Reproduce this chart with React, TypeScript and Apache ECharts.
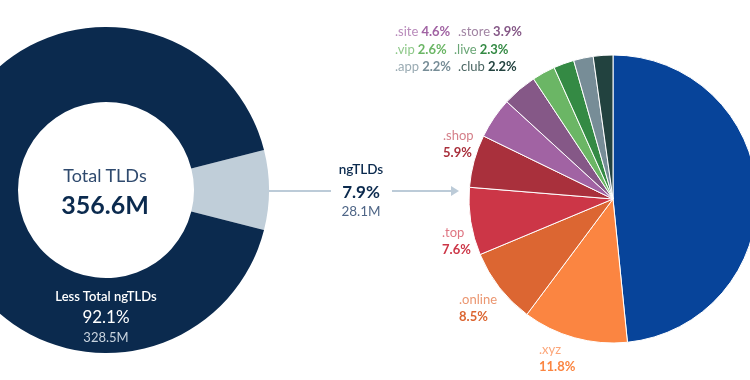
import React, { useEffect, useRef } from "react";
import * as echarts from "echarts";

// ---- data ----
const totalLabel = "Total TLDs";
const totalValue = "356.6M";
const lessLabel = "Less Total ngTLDs";
const lessPct = 92.1;
const lessValue = "328.5M";
const ngLabel = "ngTLDs";
const ngPct = 7.9;
const ngValue = "28.1M";

const tldNames = ["Other", ".xyz", ".online", ".top", ".shop", ".site", ".store", ".vip", ".live", ".app", ".club"];
const tldPcts = [48.4, 11.8, 8.5, 7.6, 5.9, 4.6, 3.9, 2.6, 2.3, 2.2, 2.2];

// ---- styles ----
const FONT = "Lato, 'Open Sans', sans-serif";
const NAVY = "#0b2a4e";
const LIGHT = "#c0ced9";
const sliceColors = ["#07449a", "#fb8541", "#dc6632", "#cc3647", "#a9303c", "#a163a3", "#855887", "#6bb665", "#348a44", "#778d97", "#22423f"];
const nameColors = ["", "#fca679", "#eb9670", "#df7683", "#d5808a", "#b98bbb", "#a184a3", "#8fc98a", "#6aa676", "#9aabb3", "#4b6663"];
// label layout [x, y, mode] mode: "stack" (name above value) or "inline"
const labelPos: Record<string, [number, number, string]> = {
  ".xyz": [539, 349, "stack"],
  ".online": [459, 299, "stack"],
  ".top": [442, 232, "stack"],
  ".shop": [443, 135, "stack"],
  ".site": [395, 31, "inline"],
  ".store": [458, 31, "inline"],
  ".vip": [395, 49, "inline"],
  ".live": [454, 49, "inline"],
  ".app": [395, 66, "inline"],
  ".club": [458, 66, "inline"],
};

export default function App() {
  const ref = useRef<HTMLDivElement>(null);
  useEffect(() => {
    if (!ref.current) return;
    const chart = echarts.init(ref.current, undefined, { renderer: "svg" });

    const graphics: any[] = [];
    const txt = (x: number, y: number, text: string, size: number, color: string, weight: any = "normal", align = "center") => {
      graphics.push({
        type: "text",
        x,
        y,
        style: { text, fontSize: size, fill: color, fontWeight: weight, fontFamily: FONT, align, verticalAlign: "middle" },
        z: 100,
      });
    };
    // left donut center texts
    txt(105, 175, totalLabel, 18, "#2f4a6e");
    txt(105, 204, totalValue, 25, NAVY, "bold");
    txt(106, 296, lessLabel, 13, "#ffffff", 600);
    txt(106, 316, lessPct.toFixed(1) + "%", 17, "#ffffff");
    txt(106, 337, lessValue, 13, "#c8d3de");
    // middle
    txt(361, 169, ngLabel, 13.5, NAVY, 600);
    txt(361, 191, ngPct.toFixed(1) + "%", 17, NAVY, "bold");
    txt(361, 211, ngValue, 13.5, "#4f6687");
    // arrow
    const ARROW = "#bccbd8";
    graphics.push({ type: "line", shape: { x1: 268, y1: 191, x2: 331, y2: 191 }, style: { stroke: ARROW, lineWidth: 2 } });
    graphics.push({ type: "line", shape: { x1: 392, y1: 191, x2: 452, y2: 191 }, style: { stroke: ARROW, lineWidth: 2 } });
    graphics.push({ type: "polygon", shape: { points: [[451, 186], [459, 191], [451, 196]] }, style: { fill: ARROW } });

    // right labels
    tldNames.forEach((n, i) => {
      const p = labelPos[n];
      if (!p) return;
      const val = tldPcts[i].toFixed(1) + "%";
      if (p[2] === "stack") {
        txt(p[0], p[1], n, 13, nameColors[i], "normal", "left");
        txt(p[0], p[1] + 17, val, 13, sliceColors[i], "bold", "left");
      } else {
        graphics.push({
          type: "text",
          x: p[0],
          y: p[1],
          style: {
            text: "{n|" + n + "} {v|" + val + "}",
            fontFamily: FONT,
            verticalAlign: "middle",
            rich: {
              n: { fontSize: 13, fill: nameColors[i], fontFamily: FONT },
              v: { fontSize: 13, fill: sliceColors[i], fontWeight: "bold", fontFamily: FONT },
            },
          },
          z: 100,
        });
      }
    });

    chart.setOption({
      animation: false,
      graphic: graphics,
      series: [
        {
          type: "pie",
          center: [106, 190],
          radius: [88, 163],
          startAngle: (ngPct * 3.6) / 2,
          clockwise: true,
          silent: true,
          label: { show: false },
          labelLine: { show: false },
          itemStyle: { borderWidth: 0 },
          data: [
            { name: ngLabel, value: ngPct, itemStyle: { color: LIGHT } },
            { name: lessLabel, value: lessPct, itemStyle: { color: NAVY } },
          ],
        },
        {
          type: "pie",
          center: [613, 199],
          radius: [0, 144],
          startAngle: 90,
          clockwise: true,
          silent: true,
          label: { show: false },
          labelLine: { show: false },
          itemStyle: { borderColor: "#ffffff", borderWidth: 1 },
          data: tldNames.map((n, i) => ({ name: n, value: tldPcts[i], itemStyle: { color: sliceColors[i] } })),
        },
      ],
    });
    return () => chart.dispose();
  }, []);
  return <div ref={ref} style={{ position: "fixed", left: 0, top: 0, width: 750, height: 380 }} />;
}
